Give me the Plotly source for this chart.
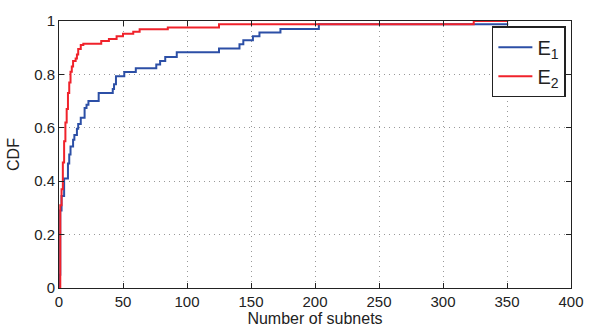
import plotly.graph_objects as go

# E1 (blue) CDF step points: x = number of subnets, y = CDF after step
e1_x = [0, 0.5, 1, 2, 4, 7, 8, 9, 11, 12, 14, 15, 17, 20, 21.5, 23, 31, 42, 43, 44.5, 51, 60, 76, 79, 83, 92, 125, 141, 144, 151.5, 156.6, 173, 203, 351]
e1_y = [0, 0.05, 0.29, 0.345, 0.41, 0.466, 0.50, 0.53, 0.555, 0.573, 0.596, 0.614, 0.638, 0.674, 0.686, 0.70, 0.73, 0.745, 0.763, 0.793, 0.809, 0.823, 0.837, 0.85, 0.865, 0.883, 0.897, 0.913, 0.928, 0.943, 0.957, 0.97, 0.988, 0.988]

# E2 (red) CDF step points
e2_x = [0, 1, 2, 3, 4, 5, 6, 7, 8, 9, 10, 11, 13, 14, 15, 17, 19, 33, 39, 45, 50, 58, 63, 85, 125, 324, 351]
e2_y = [0, 0.31, 0.37, 0.47, 0.55, 0.62, 0.67, 0.73, 0.77, 0.81, 0.83, 0.85, 0.86, 0.875, 0.895, 0.91, 0.915, 0.925, 0.933, 0.943, 0.952, 0.96, 0.969, 0.976, 0.988, 1.0, 1.0]

x_ticks = [0, 50, 100, 150, 200, 250, 300, 350, 400]
y_ticks = [0, 0.2, 0.4, 0.6, 0.8, 1]
y_ticktext = ["0", "0.2", "0.4", "0.6", "0.8", "1"]

FONT = "Liberation Sans, Arial"

fig = go.Figure()
fig.add_trace(go.Scatter(x=e1_x, y=e1_y, mode="lines", line=dict(shape="hv", color="#2c4fa6", width=2),
                         name="E<sub>1</sub>", legendgroup="a"))
fig.add_trace(go.Scatter(x=e2_x, y=e2_y, mode="lines", line=dict(shape="hv", color="#f0222b", width=2),
                         name="E<sub>2</sub>", legendgroup="b"))

axis_common = dict(showline=True, linecolor="#222", linewidth=1, mirror="ticks", ticks="inside",
                   ticklen=5, tickcolor="#222", showgrid=True, gridcolor="#999", griddash="1px,4px",
                   gridwidth=1, zeroline=False, tickfont=dict(family=FONT, size=15, color="#222"))

fig.update_xaxes(range=[0, 400], tickvals=x_ticks, title=dict(text="Number of subnets", standoff=2,
                 font=dict(family=FONT, size=16, color="#222")), **axis_common)
fig.update_yaxes(range=[0, 1], tickvals=y_ticks, ticktext=y_ticktext, title=dict(text="CDF", standoff=10,
                 font=dict(family=FONT, size=16, color="#222")), **axis_common)

fig.update_layout(
    width=596, height=335,
    margin=dict(l=59, r=15, t=14, b=42),
    plot_bgcolor="white", paper_bgcolor="white",
    showlegend=True,
    legend=dict(x=0.99, y=0.98, xanchor="right", yanchor="top", bgcolor="white",
                bordercolor="#222", borderwidth=1.5,
                font=dict(family=FONT, size=20, color="#222"),
                itemwidth=34, tracegroupgap=0),
)

fig.write_html("out.html")
